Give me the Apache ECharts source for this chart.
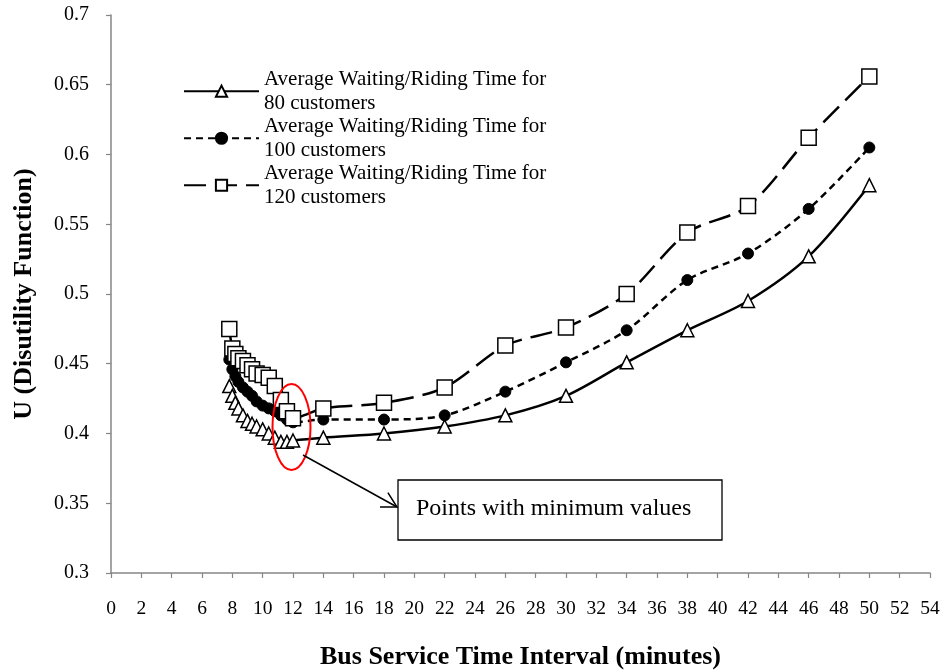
<!DOCTYPE html>
<html>
<head>
<meta charset="utf-8">
<script src="https://cdn.jsdelivr.net/npm/echarts@6/dist/echarts.min.js"></script>
<style>html,body{margin:0;padding:0;background:#fff}#c{width:943px;height:670px}</style>
</head>
<body>
<div id="c"></div>
<script>
const xValues = [7.8, 8.0, 8.2, 8.4, 8.7, 9.0, 9.3, 9.6, 10.0, 10.4, 10.8, 11.2, 11.6, 12.0, 14, 18, 22, 26, 30, 34, 38, 42, 46, 50];
const u80  = [0.434, 0.427, 0.422, 0.418, 0.413, 0.409, 0.407, 0.405, 0.403, 0.400, 0.397, 0.394, 0.394, 0.395, 0.397, 0.400, 0.405, 0.413, 0.427, 0.451, 0.474, 0.495, 0.527, 0.578];
const u100 = [0.453, 0.446, 0.441, 0.437, 0.433, 0.430, 0.427, 0.423, 0.420, 0.418, 0.416, 0.413, 0.410, 0.408, 0.410, 0.410, 0.413, 0.430, 0.451, 0.474, 0.510, 0.529, 0.561, 0.605];
const u120 = [0.475, 0.461, 0.457, 0.454, 0.452, 0.449, 0.446, 0.443, 0.442, 0.440, 0.434, 0.424, 0.416, 0.411, 0.418, 0.422, 0.433, 0.463, 0.476, 0.500, 0.544, 0.563, 0.612, 0.656];
const seriesNames = [
  'Average Waiting/Riding Time for\n80 customers',
  'Average Waiting/Riding Time for\n100 customers',
  'Average Waiting/Riding Time for\n120 customers'
];
const annotationText = 'Points with minimum values';

const FONT = '"Liberation Serif", "Times New Roman", serif';
const chart = echarts.init(document.getElementById('c'));
const pairs = arr => xValues.map((x, i) => [x, arr[i]]);

chart.setOption({
  backgroundColor: '#fff',
  animation: false,
  grid: { left: 111, right: 13, top: 15, bottom: 97, containLabel: false, outerBoundsMode: 'none' },
  legend: {
    orient: 'vertical',
    left: 183,
    top: 56,
    padding: 0,
    itemGap: -23.5,
    itemWidth: 75,
    itemHeight: 14,
    textStyle: { fontFamily: FONT, fontSize: 21, color: '#000', lineHeight: 23.5, padding: [23.5, 0, 0, 0] },
    data: seriesNames
  },
  xAxis: {
    type: 'value', min: 0, max: 54, interval: 2,
    name: 'Bus Service Time Interval (minutes)',
    nameLocation: 'middle', nameGap: 71,
    nameTextStyle: { fontFamily: FONT, fontSize: 26, fontWeight: 'bold', color: '#000' },
    axisLine: { lineStyle: { color: '#868686', width: 1.5 } },
    axisTick: { show: true, inside: false, length: 5, lineStyle: { color: '#868686', width: 1.2 } },
    axisLabel: { fontFamily: FONT, fontSize: 19.5, color: '#000', margin: 26 },
    splitLine: { show: false }
  },
  yAxis: {
    type: 'value', min: 0.3, max: 0.7, interval: 0.05,
    name: 'U (Disutility Function)',
    nameLocation: 'middle', nameGap: 74,
    nameTextStyle: { fontFamily: FONT, fontSize: 26, fontWeight: 'bold', color: '#000' },
    axisLine: { show: true, lineStyle: { color: '#868686', width: 1.5 } },
    axisTick: { show: true, inside: false, length: 5, lineStyle: { color: '#868686', width: 1.2 } },
    axisLabel: { fontFamily: FONT, fontSize: 20, color: '#000', margin: 22 },
    splitLine: { show: false }
  },
  series: [
    {
      name: seriesNames[0], type: 'line', data: pairs(u80), smooth: 0.3,
      symbol: 'triangle', symbolSize: 13,
      lineStyle: { color: '#000', width: 2.5, type: 'solid' },
      itemStyle: { color: '#fff', borderColor: '#000', borderWidth: 1.5 }
    },
    {
      name: seriesNames[1], type: 'line', data: pairs(u100), smooth: 0.3,
      symbol: 'circle', symbolSize: 11,
      lineStyle: { color: '#000', width: 2.5, type: [7, 5] },
      itemStyle: { color: '#000', borderColor: '#000', borderWidth: 1 }
    },
    {
      name: seriesNames[2], type: 'line', data: pairs(u120), smooth: 0.3,
      symbol: 'rect', symbolSize: 15,
      lineStyle: { color: '#000', width: 2.5, type: [22, 9] },
      itemStyle: { color: '#fff', borderColor: '#000', borderWidth: 1.5 }
    }
  ]
});

// annotation: ellipse, arrow and text box
const tip = [397, 507], start = [303, 455];
const ang = Math.atan2(tip[1] - start[1], tip[0] - start[0]);
const armLen = 17, spread = 0.5;
const a1 = [tip[0] - armLen * Math.cos(ang - spread), tip[1] - armLen * Math.sin(ang - spread)];
const a2 = [tip[0] - armLen * Math.cos(ang + spread), tip[1] - armLen * Math.sin(ang + spread)];
chart.setOption({
  graphic: [
    { type: 'ellipse', shape: { cx: 291.5, cy: 427, rx: 19, ry: 43 }, style: { fill: 'none', stroke: '#ff0000', lineWidth: 2 }, z: 100 },
    { type: 'line', shape: { x1: start[0], y1: start[1], x2: tip[0], y2: tip[1] }, style: { stroke: '#000', lineWidth: 1.5 }, z: 100 },
    { type: 'polyline', shape: { points: [a1, tip, a2] }, style: { fill: 'none', stroke: '#000', lineWidth: 1.5 }, z: 100 },
    { type: 'rect', shape: { x: 398, y: 480, width: 324, height: 60 }, style: { fill: '#fff', stroke: '#000', lineWidth: 1.3 }, z: 100 },
    { type: 'text', x: 416, y: 509, style: { text: annotationText, font: '24px ' + FONT, fill: '#000', verticalAlign: 'middle' }, z: 101 }
  ]
});
</script>
</body>
</html>
